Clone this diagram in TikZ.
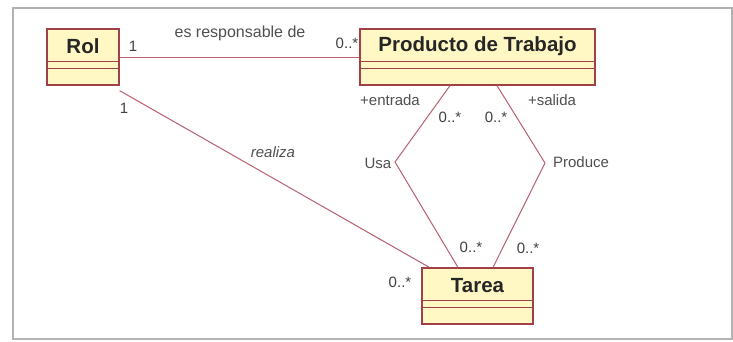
\documentclass[tikz,border=0pt]{standalone}
\usepackage{fontspec}
\setmainfont{Liberation Sans}
\usetikzlibrary{positioning}
\definecolor{fondo}{HTML}{FFF8C4}
\definecolor{borde}{HTML}{A04048}
\definecolor{linea}{HTML}{B86070}
\definecolor{texto}{HTML}{505050}
\tikzset{
clase/.style={draw=borde,fill=fondo,line width=1.2pt,minimum height=56pt,inner sep=0pt},
nombre/.style={font=\fontsize{20.5}{20.5}\selectfont\bfseries,text=black!85,minimum height=36pt,inner sep=0pt},
etiq/.style={font=\fontsize{15}{15}\selectfont,text=texto,inner sep=0pt},
mult/.style={font=\fontsize{15}{15}\selectfont,text=black!75,inner sep=0pt},
asoc/.style={draw=linea,line width=1pt}
}
\begin{document}
\begin{tikzpicture}[x=1pt,y=-1pt]
\useasboundingbox(0,0)rectangle(733,341);
\fill[white](0,0)rectangle(733,341);
\draw[gray!60,line width=1.5pt](13,8)rectangle(732,339);
\node[clase,minimum width=72pt](rol)at(83,57){};
\node[clase,minimum width=235pt](prod)at(477.5,57){};
\node[clase,minimum width=111pt](tarea)at(477.5,296){};
\foreach \c in {rol,prod,tarea}{
\draw[borde,line width=1pt]([yshift=-33pt]\c.north west)--([yshift=-33pt]\c.north east);
\draw[borde,line width=1pt]([yshift=-40pt]\c.north west)--([yshift=-40pt]\c.north east);
}
\node[nombre,below=0pt of rol.north](nrol){Rol};
\node[nombre,below=0pt of prod.north](nprod){Producto de Trabajo};
\node[nombre,below=0pt of tarea.north](ntarea){Tarea};
\coordinate(usa)at(395,162);
\coordinate(produce)at(545,163);
\draw[asoc](rol.east)--(prod.west);
\draw[asoc]([yshift=-5pt]rol.south east)--([xshift=8pt]tarea.north west);
\draw[asoc]([xshift=-27.5pt]prod.south)--(usa)--([xshift=-19.5pt]tarea.north);
\draw[asoc]([xshift=19.5pt]prod.south)--(produce)--([xshift=15.5pt]tarea.north);
\node[etiq,font=\fontsize{16}{16}\selectfont](lresp)at(240,33){es responsable de};
\node[etiq,font=\fontsize{15}{15}\selectfont\itshape](lrealiza)at(273,152){realiza};
\node[etiq](lentrada)at(390,100){+entrada};
\node[etiq](lsalida)at(552,100){+salida};
\node[etiq](lusa)at(378,163){Usa};
\node[etiq](lproduce)at(581,162){Produce};
\node[mult](m1)at(133,46){1};
\node[mult](m2)at(347,43){0..*};
\node[mult](m3)at(124,108){1};
\node[mult](m4)at(400,282){0..*};
\node[mult](m5)at(450,117){0..*};
\node[mult](m6)at(496,117){0..*};
\node[mult](m7)at(471,247){0..*};
\node[mult](m8)at(528,248){0..*};
\end{tikzpicture}
\end{document}
